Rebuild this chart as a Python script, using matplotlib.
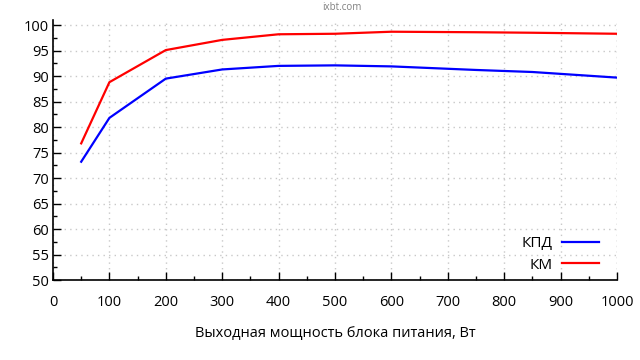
import matplotlib
matplotlib.use("Agg")
import matplotlib.pyplot as plt
from matplotlib.ticker import MultipleLocator

plt.rcParams['font.family'] = ['Open Sans', 'DejaVu Sans']

power = [50, 100, 200, 300, 400, 500, 600, 750, 850, 1000]
kpd = [73.2, 81.8, 89.5, 91.3, 92.0, 92.1, 91.9, 91.2, 90.8, 89.7]
km = [76.8, 88.8, 95.1, 97.1, 98.2, 98.3, 98.7, 98.6, 98.5, 98.3]
series_names = ["КПД", "КМ"]
xlabel = "Выходная мощность блока питания, Вт"

fig = plt.figure(figsize=(6.4, 3.6), dpi=100)
ax = fig.add_axes([53/640, 1-280/360, (617-53)/640, (280-20)/360])

ax.plot(power, kpd, color="#0000ff", lw=1.6, label=series_names[0])
ax.plot(power, km, color="#ff0000", lw=1.6, label=series_names[1])

ax.set_xlim(0, 1000)
ax.set_ylim(50, 101)
ax.xaxis.set_major_locator(MultipleLocator(100))
ax.xaxis.set_minor_locator(MultipleLocator(50))
ax.yaxis.set_major_locator(MultipleLocator(5))
ax.yaxis.set_minor_locator(MultipleLocator(2.5))
ax.set_yticks(range(50, 101, 5))

for s in ["top", "right"]:
    ax.spines[s].set_visible(False)
for s in ["left", "bottom"]:
    ax.spines[s].set_linewidth(1.2)

ax.tick_params(axis="both", which="major", direction="in", length=6, width=1, labelsize=10.5, colors="black")
ax.tick_params(axis="both", which="minor", direction="in", length=3, width=1)
ax.tick_params(axis="x", pad=11)
ax.tick_params(axis="y", pad=3)

ax.set_axisbelow(True)
ax.grid(True, which="major", color="#c8c8c8", linestyle=(0, (1, 3)), lw=1)
ax.axvline(1000, color="#c8c8c8", linestyle=(0, (1, 3)), lw=1, zorder=0.5)

ax.set_xlabel(xlabel, fontsize=10.5, labelpad=11)

leg = ax.legend(loc="lower right", bbox_to_anchor=(0.992, -0.025), frameon=False, fontsize=11,
                markerfirst=False, handlelength=2.4, handletextpad=0.6, labelspacing=0.45)

fig.text(342/640, 1-8/360, "ixbt.com", ha="center", va="center", fontsize=7, color="#808080")

fig.savefig("out.png", dpi=100)
